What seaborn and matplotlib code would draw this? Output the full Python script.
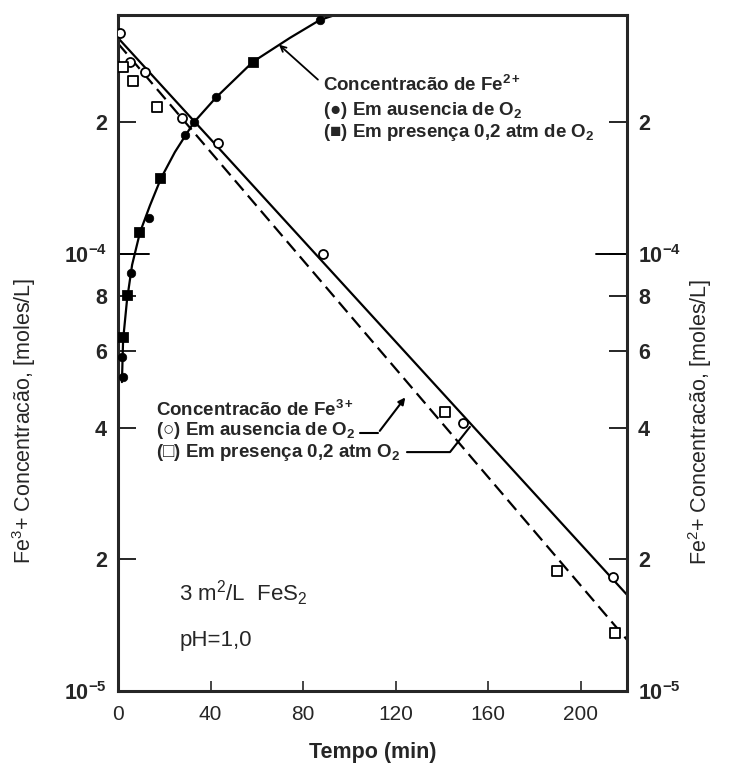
import matplotlib
matplotlib.use("Agg")
import matplotlib.pyplot as plt
from matplotlib.ticker import FixedLocator, FixedFormatter, NullLocator
import pandas as pd
import seaborn as sns

# Fe3+ concentration, open symbols
fe3_circ_t = [0.9, 5.2, 11.7, 27.7, 43.2, 88.6, 149.1, 213.9]
fe3_circ_c = [3.21e-4, 2.75e-4, 2.61e-4, 2.05e-4, 1.79e-4, 1.00e-4, 4.10e-5, 1.82e-5]
fe3_sq_t = [2.2, 6.5, 16.9, 141.3, 189.7, 214.8]
fe3_sq_c = [2.68e-4, 2.48e-4, 2.17e-4, 4.35e-5, 1.88e-5, 1.36e-5]

# Fe3+ fitted lines (end points)
fit_t = [0, 220]
fit_solid_c = [3.12e-4, 1.66e-5]
fit_dashed_c = [3.03e-4, 1.31e-5]

# Fe2+ concentration, filled symbols
fe2_circ_t = [2.2, 1.7, 5.6, 13.4, 29.0, 32.8, 42.4, 87.3]
fe2_circ_c = [5.24e-5, 5.81e-5, 9.05e-5, 1.21e-4, 1.87e-4, 2.00e-4, 2.28e-4, 3.43e-4]
fe2_sq_t = [2.2, 3.9, 9.1, 18.2, 58.3]
fe2_sq_c = [6.46e-5, 8.06e-5, 1.12e-4, 1.49e-4, 2.75e-4]

# Fe2+ curve drawn through the points
curve_t = [1.7, 2.2, 3.9, 6.1, 9.5, 13.8, 18.6, 24.6, 32.8, 42.4, 58.3, 74.3, 87.3, 98.1]
curve_c = [5.09e-5, 6.35e-5, 7.85e-5, 9.44e-5, 1.12e-4, 1.29e-4, 1.49e-4, 1.71e-4,
           2.00e-4, 2.28e-4, 2.75e-4, 3.12e-4, 3.43e-4, 3.58e-4]

x_ticks = [0, 40, 80, 120, 160, 200]
y_ticks = [1e-5, 2e-5, 4e-5, 6e-5, 8e-5, 1e-4, 2e-4]
y_tick_labels = ["10$^{-5}$", "2", "4", "6", "8", "10$^{-4}$", "2"]

sns.set_style("ticks")
plt.rcParams['font.family'] = ['Liberation Sans', 'DejaVu Sans']
plt.rcParams['mathtext.fontset'] = 'custom'
plt.rcParams['mathtext.rm'] = 'Liberation Sans'
plt.rcParams['mathtext.it'] = 'Liberation Sans'
plt.rcParams['mathtext.bf'] = 'Liberation Sans:bold'
plt.rcParams['mathtext.default'] = 'regular'

fig = plt.figure(figsize=(7.35, 7.64), dpi=100)
ax = fig.add_axes([118 / 735, 73 / 764, 509 / 735, 676 / 764])

# lines
sns.lineplot(x=fit_t, y=fit_solid_c, ax=ax, color='black', lw=1.6, sort=False, estimator=None)
sns.lineplot(x=fit_t, y=fit_dashed_c, ax=ax, color='black', lw=1.6, sort=False, estimator=None)
ax.lines[-1].set_dashes([6, 3])
sns.lineplot(x=curve_t, y=curve_c, ax=ax, color='black', lw=1.6, sort=False, estimator=None)

# markers
sns.scatterplot(x=fe3_circ_t, y=fe3_circ_c, ax=ax, marker='o', s=42,
                facecolor='white', edgecolor='black', linewidth=1.3, zorder=5)
sns.scatterplot(x=fe3_sq_t, y=fe3_sq_c, ax=ax, marker='s', s=42,
                facecolor='white', edgecolor='black', linewidth=1.3, zorder=5)
sns.scatterplot(x=fe2_circ_t, y=fe2_circ_c, ax=ax, marker='o', s=38,
                color='black', edgecolor='black', zorder=5)
sns.scatterplot(x=fe2_sq_t, y=fe2_sq_c, ax=ax, marker='s', s=48,
                color='black', edgecolor='black', zorder=5)

ax.set_yscale('log')
ax.set_xlim(0, 220)
ax.set_ylim(1e-5, 3.52e-4)
ax.xaxis.set_major_locator(FixedLocator(x_ticks))
ax.xaxis.set_minor_locator(NullLocator())
ax.yaxis.set_major_locator(FixedLocator(y_ticks))
ax.yaxis.set_major_formatter(FixedFormatter(y_tick_labels))
ax.yaxis.set_minor_locator(NullLocator())
ax.tick_params(axis='x', direction='in', length=7, width=1.2, labelsize=15, pad=10)
ax.tick_params(axis='y', direction='in', length=13, width=1.4, labelsize=15.5, pad=8,
               right=True, labelright=True)
for lab in ax.get_yticklabels():
    lab.set_fontweight('bold')
# longer ticks at 10^-4
ax.axhline(1e-4, xmin=0, xmax=0.06, color='black', lw=1.4)
ax.axhline(1e-4, xmin=0.94, xmax=1, color='black', lw=1.4)
for sp in ax.spines.values():
    sp.set_linewidth(2.2)

ax.set_xlabel('Tempo (min)', fontsize=15.5, fontweight='bold')
ax.xaxis.set_label_coords(0.5, -0.076)
ax.set_ylabel('Fe$^{3}$+ Concentracão, [moles/L]', fontsize=15.5)
ax.yaxis.set_label_coords(-0.158, 0.40)
fig.text(700 / 735, 0.448, 'Fe$^{2}$+ Concentracão, [moles/L]', fontsize=15.5,
         rotation=90, ha='center', va='center')

# Fe2+ annotation
tk = dict(fontsize=13.5, fontweight='bold', transform=ax.transAxes, va='center')
ax.text(0.403, 0.896, 'Concentracão de Fe$^{\\mathbf{2+}}$', **tk)
ax.text(0.403, 0.859, '(\u25CF) Em ausencia de O$_{\\mathbf{2}}$', **tk)
ax.text(0.403, 0.826, '(\u25A0) Em presença 0,2 atm de O$_{\\mathbf{2}}$', **tk)
ax.annotate('', xy=(68.7, 3.04e-4), xytext=(87.3, 2.48e-4),
            arrowprops=dict(arrowstyle='->', color='black', lw=1.3))

# Fe3+ annotation
ax.text(0.074, 0.416, 'Concentracão de Fe$^{\\mathbf{3+}}$', **tk)
ax.text(0.074, 0.386, '(\u25CB) Em ausencia de O$_{\\mathbf{2}}$', **tk)
ax.text(0.074, 0.353, '(\u25A1) Em presença 0,2 atm O$_{\\mathbf{2}}$', **tk)
ax.plot([104.6, 112.4], [3.89e-5, 3.89e-5], color='black', lw=1.5)
ax.annotate('', xy=(124.9, 4.75e-5), xytext=(112.4, 3.89e-5),
            arrowprops=dict(arrowstyle='-|>', color='black', lw=1.5, mutation_scale=10))
ax.plot([124.9, 143.5, 152.1], [3.52e-5, 3.52e-5, 4.02e-5], color='black', lw=1.5)

ax.text(0.120, 0.145, '3 m$^{2}$/L  FeS$_{2}$', fontsize=16, transform=ax.transAxes, va='center')
ax.text(0.120, 0.074, 'pH=1,0', fontsize=16, transform=ax.transAxes, va='center')

fig.savefig('out.png', dpi=100)
